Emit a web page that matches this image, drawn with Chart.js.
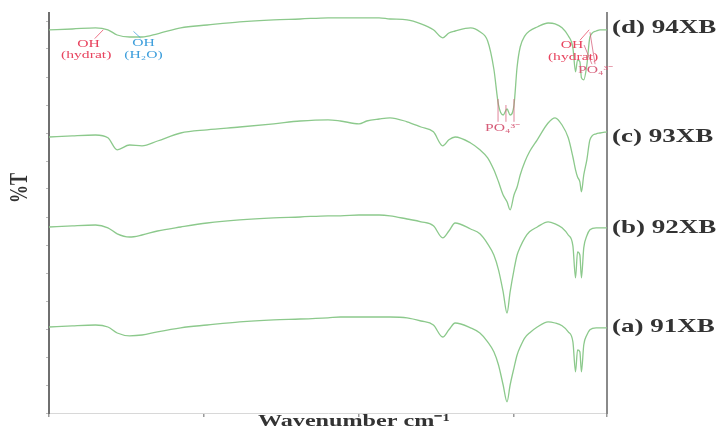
<!DOCTYPE html>
<html>
<head>
<meta charset="utf-8">
<script src="https://cdn.jsdelivr.net/npm/chart.js@4"></script>
<style>
html,body{margin:0;padding:0;background:#fff;}
#c{display:block;}
</style>
</head>
<body>
<canvas id="c" width="724" height="432"></canvas>
<script>
// Wavenumbers (cm-1), shared by all four spectra
const wavenumbers = [4000,3850,3700,3620,3560,3480,3400,3300,3150,2980,2770,2550,2380,2200,2120,2000,1950,1870,1800,1690,1600,1520,1460,1420,1380,1280,1220,1170,1130,1100,1070,1045,1025,1000,980,960,930,900,850,780,735,690,650,620,603,590,575,565,550,530,510,470,445,400];

// %T (offset stacked) for each sample
const s91XB = [21.5,21.8,22.0,21.5,20.0,19.3,19.5,20.3,21.3,22.0,22.8,23.3,23.5,23.8,24.0,24.0,24.0,24.0,24.0,23.8,23.0,22.0,19.0,20.8,22.5,21.3,20.0,17.8,15.3,12.0,7.0,2.8,7.0,11.3,14.5,16.5,18.8,20.0,21.5,22.8,22.5,21.8,20.3,17.8,10.3,15.8,15.3,10.3,17.0,19.5,20.8,21.3,21.3,21.3];
const s92XB = [46.5,46.8,47.0,46.3,44.8,44.0,44.5,45.5,46.5,47.5,48.3,48.8,49.0,49.3,49.3,49.5,49.5,49.5,49.3,48.5,47.8,46.8,43.8,45.5,47.5,46.0,44.8,42.3,39.5,35.8,30.3,25.0,30.3,35.8,39.5,41.5,43.8,45.3,46.5,47.8,47.3,46.3,44.5,41.8,33.8,40.3,39.5,33.8,41.3,44.3,45.8,46.3,46.3,46.3];
const s93XB = [69.0,69.3,69.5,68.8,65.8,67.0,66.8,68.0,70.0,70.8,71.5,72.3,73.0,73.3,73.0,72.3,73.0,73.5,73.8,72.8,71.5,70.3,66.8,68.3,69.0,67.5,65.8,63.8,60.8,57.8,54.5,52.8,50.8,54.5,56.5,59.5,62.8,65.3,68.3,72.5,73.8,72.0,68.8,64.0,60.8,59.0,57.8,55.3,59.5,63.3,68.3,69.8,70.0,70.3];
const s94XB = [95.8,96.0,96.3,95.8,94.5,94.0,94.0,94.8,96.3,97.0,97.8,98.3,98.5,98.8,98.8,98.8,98.8,98.8,98.5,98.3,97.3,95.8,93.8,95.0,95.5,96.3,95.3,93.0,86.0,77.0,74.5,76.0,74.5,77.0,86.5,91.5,94.3,95.5,96.5,97.5,97.3,96.3,94.3,91.3,85.3,88.3,87.8,83.8,83.3,87.0,94.0,95.5,95.8,95.8];

// Series names and the %T level where each name sits
const seriesNames = ['(a) 91XB','(b) 92XB','(c) 93XB','(d) 94XB'];
const seriesNameLevel = [21.5, 46.3, 69.0, 96.3];

// x-axis tick values
const xTickValues = [4000,3000,2000,1000,400];

// Band annotations: text, wavenumber, %T
const bandLabels = [
  {t:'OH', w:3745, v:92.2, col:'red'},
  {t:'(hydrat)', w:3760, v:89.4, col:'red'},
  {t:'OH', w:3390, v:92.4, col:'blue'},
  {t:'(H\u2082O)', w:3390, v:89.4, col:'blue'},
  {t:'PO\u2084\u00B3\u207B', w:1071, v:71.3, col:'pink'},
  {t:'OH', w:626, v:92.0, col:'red'},
  {t:'(hydrat)', w:619, v:89.0, col:'red'},
  {t:'PO\u2084\u00B3\u207B', w:471, v:85.8, col:'pink'}
];
// Leader lines: [w1, v1, w2, v2]
const bandLines = [
  {p:[3705,93.6,3650,95.8], col:'red'},
  {p:[3410,93.8,3455,95.4], col:'blue'},
  {p:[1103,72.8,1103,78.5], col:'pink'},
  {p:[1052,72.8,1052,77.0], col:'pink'},
  {p:[1000,72.8,1000,78.5], col:'pink'},
  {p:[574,93.2,515,95.8], col:'red'},
  {p:[497,87.2,548,92.0], col:'pink'},
  {p:[477,87.2,510,95.2], col:'pink'}
];

const COLORS = {red:'#e8445f', blue:'#3f9fdc', pink:'#d65c78'};
const STRETCH = 1.42;

function sText(ctx, txt, x, y, font, color, align, rot) {
  ctx.save();
  ctx.font = font;
  ctx.fillStyle = color;
  ctx.textBaseline = 'middle';
  ctx.textAlign = 'left';
  const w = ctx.measureText(txt).width;
  if (rot) {
    ctx.translate(x, y);
    ctx.scale(STRETCH, 1);
    ctx.rotate(-Math.PI/2);
    ctx.fillText(txt, -w/2, 0);
  } else {
    const sw = w * STRETCH;
    const x0 = align === 'center' ? x - sw/2 : (align === 'right' ? x - sw : x);
    ctx.translate(x0, y);
    ctx.scale(STRETCH, 1);
    ctx.fillText(txt, 0, 0);
  }
  ctx.restore();
}

const textLayer = {
  id: 'textLayer',
  afterDraw(chart) {
    const ctx = chart.ctx;
    const xs = chart.scales.x, ys = chart.scales.y;
    const area = chart.chartArea;
    bandLines.forEach(l => {
      ctx.save();
      ctx.strokeStyle = COLORS[l.col];
      ctx.globalAlpha = 0.75;
      ctx.lineWidth = 1;
      ctx.beginPath();
      ctx.moveTo(xs.getPixelForValue(l.p[0]), ys.getPixelForValue(l.p[1]));
      ctx.lineTo(xs.getPixelForValue(l.p[2]), ys.getPixelForValue(l.p[3]));
      ctx.stroke();
      ctx.restore();
    });
    bandLabels.forEach(b => {
      sText(ctx, b.t, xs.getPixelForValue(b.w), ys.getPixelForValue(b.v),
            '11px "Liberation Serif"', COLORS[b.col], 'center');
    });
    seriesNames.forEach((n, i) => {
      sText(ctx, n, area.right + 5, ys.getPixelForValue(seriesNameLevel[i]),
            'bold 19px "Liberation Serif"', '#333', 'left');
    });
    sText(ctx, 'Wavenumber cm\u207B\u00B9', 354, area.bottom + 9,
          'bold 17px "Liberation Serif"', '#333', 'center');
    sText(ctx, '%T', 20, 188,
          'bold 18px "Liberation Serif"', '#333', 'center', true);
  }
};

const mk = (arr) => wavenumbers.map((w, i) => ({x: w, y: arr[i]}));
const lineStyle = {
  borderColor: '#8cc98c',
  borderWidth: 1.3,
  pointRadius: 0,
  fill: false,
  cubicInterpolationMode: 'monotone'
};

new Chart(document.getElementById('c'), {
  type: 'line',
  data: {
    datasets: [
      Object.assign({label: seriesNames[0], data: mk(s91XB)}, lineStyle),
      Object.assign({label: seriesNames[1], data: mk(s92XB)}, lineStyle),
      Object.assign({label: seriesNames[2], data: mk(s93XB)}, lineStyle),
      Object.assign({label: seriesNames[3], data: mk(s94XB)}, lineStyle)
    ]
  },
  options: {
    responsive: false,
    animation: false,
    devicePixelRatio: 1,
    layout: {padding: {left: 49, right: 117, top: 13, bottom: 19}},
    plugins: {legend: {display: false}, tooltip: {enabled: false}},
    scales: {
      x: {
        type: 'linear', reverse: true, min: 400, max: 4000,
        afterBuildTicks: (s) => { s.ticks = xTickValues.map(v => ({value: v})); },
        afterFit: (s) => { s.height = 0; },
        ticks: {display: false},
        grid: {drawOnChartArea: false, drawTicks: true, tickLength: 4, color: '#9a9a9a', lineWidth: 1.5},
        border: {display: true, color: '#d8d8d8', width: 1}
      },
      y: {
        min: 0, max: 100,
        afterBuildTicks: (s) => { const t = []; for (let v = 0; v <= 100; v += 7) t.push({value: v}); s.ticks = t; },
        afterFit: (s) => { s.width = 0; },
        ticks: {display: false},
        grid: {drawOnChartArea: false, drawTicks: true, tickLength: 3, color: '#bbbbbb'},
        border: {display: true, color: '#6f6f6f', width: 2}
      },
      y2: {
        position: 'right', min: 0, max: 100,
        afterFit: (s) => { s.width = 0; },
        ticks: {display: false},
        grid: {display: false},
        border: {display: true, color: '#8a8a8a', width: 2}
      }
    }
  },
  plugins: [textLayer]
});
</script>
</body>
</html>
